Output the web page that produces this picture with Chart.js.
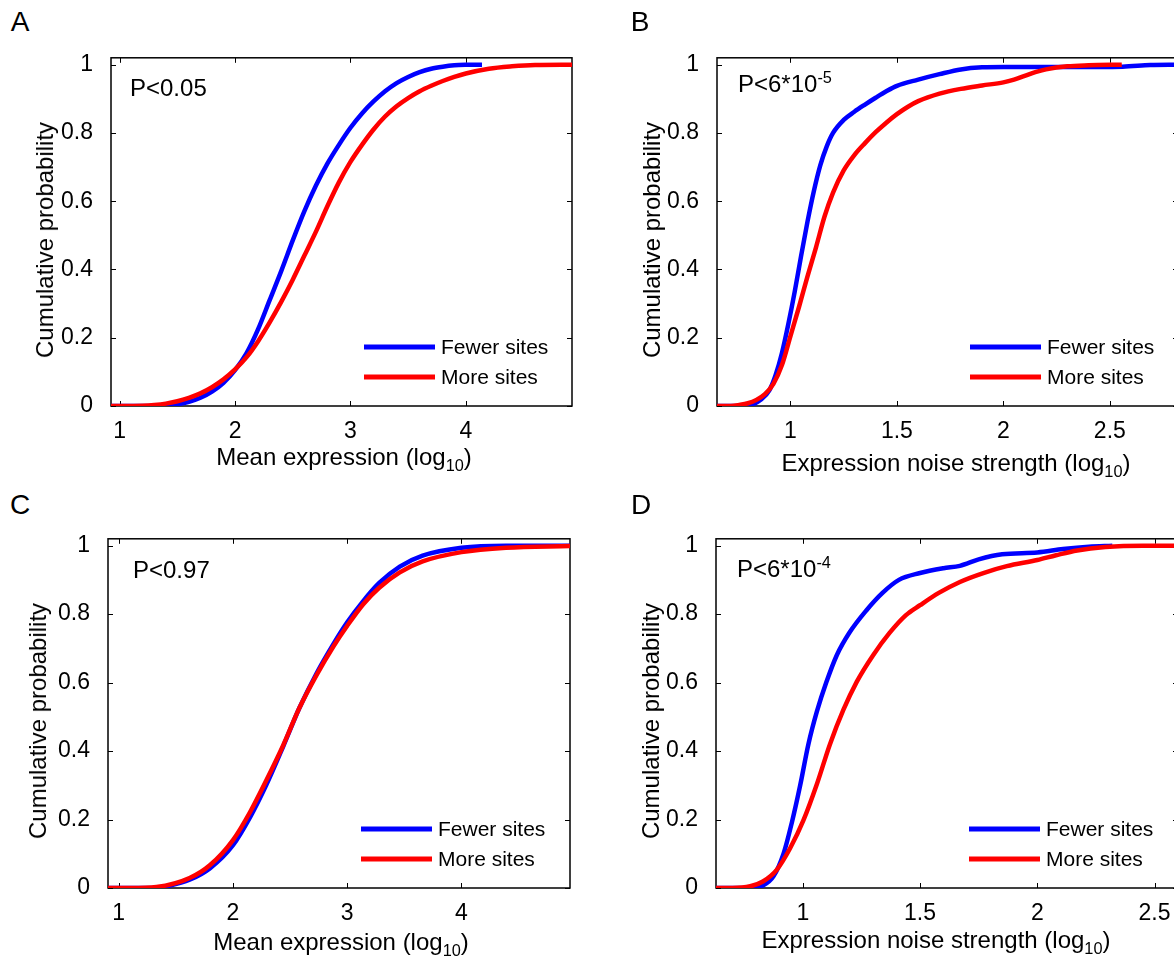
<!DOCTYPE html>
<html>
<head>
<meta charset="utf-8">
<script src="https://cdn.jsdelivr.net/npm/chart.js@4.4.1/dist/chart.umd.min.js"></script>
<style>
	html, body { margin: 0; padding: 0; background: #fff; overflow: hidden; }
	body { width: 1174px; height: 957px; position: relative; font-family: "Liberation Sans", Arial, Helvetica, sans-serif; color: #000; }
	canvas.panel { position: absolute; }
	.txt { position: absolute; white-space: nowrap; line-height: 1; }
	.c { transform: translate( -50%, -50% ); }
	.l { transform: translateY( -50% ); }
	.rot { transform: translate( -50%, -50% ) rotate( -90deg ); }
	.letter { font-size: 28px; }
	.title { font-size: 24px; }
	.pval { font-size: 24px; }
	sub { font-size: 0.68em; vertical-align: -0.35em; line-height: 0; }
	sup { font-size: 0.68em; vertical-align: 0.55em; line-height: 0; }
</style>
</head>
<body>
<script>
/* -------------------------------------------------------------
 * 1. DATA
 * ------------------------------------------------------------- */
const yTicks = [ 0, 0.2, 0.4, 0.6, 0.8, 1 ];
const meanTicks = [ 1, 2, 3, 4 ];
const noiseTicks = [ 1, 1.5, 2, 2.5 ];
const seriesLabels = [ 'Fewer sites', 'More sites' ];

// A: mean expression
const aFewerX = [ 0.925, 1.3, 1.4, 1.5, 1.6, 1.7, 1.8, 1.9, 2.0, 2.1, 2.2, 2.3, 2.4, 2.5, 2.6, 2.7, 2.8, 2.9, 3.0, 3.1, 3.2, 3.3, 3.4, 3.5, 3.6, 3.7, 3.8, 3.9, 4.0, 4.14 ];
const aFewerY = [ 0, 0, 0.001, 0.005, 0.012, 0.024, 0.042, 0.068, 0.105, 0.155, 0.225, 0.31, 0.395, 0.485, 0.57, 0.645, 0.71, 0.765, 0.815, 0.857, 0.892, 0.922, 0.946, 0.964, 0.978, 0.988, 0.994, 0.998, 0.9995, 1.0 ];
const aMoreX = [ 0.925, 1.2, 1.3, 1.4, 1.5, 1.6, 1.7, 1.8, 1.9, 2.0, 2.1, 2.2, 2.3, 2.4, 2.5, 2.6, 2.7, 2.8, 2.9, 3.0, 3.1, 3.2, 3.3, 3.4, 3.5, 3.6, 3.7, 3.8, 3.9, 4.0, 4.2, 4.4, 4.6, 4.92 ];
const aMoreY = [ 0, 0.001, 0.003, 0.007, 0.014, 0.024, 0.037, 0.055, 0.078, 0.107, 0.143, 0.19, 0.245, 0.305, 0.37, 0.44, 0.51, 0.585, 0.655, 0.715, 0.765, 0.81, 0.848, 0.878, 0.902, 0.922, 0.938, 0.952, 0.964, 0.974, 0.988, 0.995, 0.999, 1.0 ];

// B: noise strength
const bFewerX = [ 0.655, 0.78, 0.82, 0.86, 0.9, 0.93, 0.96, 0.99, 1.02, 1.05, 1.08, 1.11, 1.14, 1.17, 1.2, 1.25, 1.3, 1.35, 1.4, 1.45, 1.5, 1.6, 1.7, 1.8, 1.9, 2.0, 2.3, 2.56, 2.69, 2.82 ];
const bFewerY = [ 0, 0, 0.004, 0.018, 0.045, 0.09, 0.155, 0.24, 0.335, 0.44, 0.54, 0.63, 0.705, 0.76, 0.8, 0.838, 0.862, 0.883, 0.903, 0.922, 0.938, 0.956, 0.972, 0.986, 0.992, 0.993, 0.993, 0.994, 0.999, 1.0 ];
const bMoreX = [ 0.655, 0.72, 0.76, 0.8, 0.84, 0.88, 0.92, 0.96, 1.0, 1.04, 1.08, 1.12, 1.16, 1.2, 1.25, 1.3, 1.35, 1.4, 1.45, 1.5, 1.55, 1.6, 1.7, 1.8, 1.9, 2.0, 2.05, 2.1, 2.15, 2.2, 2.3, 2.4, 2.556 ];
const bMoreY = [ 0, 0, 0.003, 0.008, 0.018, 0.035, 0.065, 0.12, 0.205, 0.29, 0.38, 0.465, 0.555, 0.625, 0.69, 0.735, 0.77, 0.802, 0.83, 0.855, 0.876, 0.893, 0.915, 0.929, 0.939, 0.948, 0.956, 0.967, 0.978, 0.986, 0.995, 0.998, 1.0 ];

// C: mean expression
const cFewerX = [ 0.906, 1.2, 1.35, 1.42, 1.62, 1.80, 2.0, 2.15, 2.29, 2.44, 2.58, 2.73, 2.88, 3.0, 3.14, 3.28, 3.46, 3.66, 4.0, 4.39, 4.95 ];
const cFewerY = [ 0, 0, 0.001, 0.005, 0.024, 0.058, 0.125, 0.207, 0.30, 0.414, 0.525, 0.626, 0.713, 0.776, 0.838, 0.891, 0.939, 0.971, 0.994, 1.0, 1.0 ];
const cMoreX = [ 0.906, 1.1, 1.33, 1.62, 1.80, 2.0, 2.15, 2.29, 2.44, 2.58, 2.73, 2.88, 3.0, 3.14, 3.28, 3.46, 3.66, 4.0, 4.39, 4.95 ];
const cMoreY = [ 0, 0, 0.003, 0.029, 0.067, 0.14, 0.222, 0.313, 0.417, 0.525, 0.621, 0.706, 0.766, 0.829, 0.877, 0.922, 0.954, 0.981, 0.994, 0.999 ];

// D: noise strength
const dFewerX = [ 0.63, 0.776, 0.83, 0.875, 0.918, 0.953, 0.989, 1.024, 1.06, 1.10, 1.145, 1.20, 1.27, 1.34, 1.41, 1.5, 1.60, 1.67, 1.75, 1.85, 2.0, 2.11, 2.22, 2.32 ];
const dFewerY = [ 0, 0, 0.007, 0.034, 0.10, 0.19, 0.30, 0.42, 0.515, 0.60, 0.68, 0.747, 0.81, 0.862, 0.90, 0.92, 0.934, 0.941, 0.96, 0.975, 0.98, 0.99, 0.997, 1.0 ];
const dMoreX = [ 0.63, 0.70, 0.776, 0.83, 0.889, 0.946, 1.003, 1.06, 1.116, 1.173, 1.23, 1.30, 1.37, 1.44, 1.5, 1.58, 1.67, 1.77, 1.87, 2.0, 2.08, 2.17, 2.29, 2.45, 2.6 ];
const dMoreY = [ 0, 0, 0.005, 0.019, 0.053, 0.116, 0.198, 0.303, 0.42, 0.52, 0.602, 0.68, 0.745, 0.797, 0.826, 0.862, 0.894, 0.92, 0.94, 0.958, 0.972, 0.986, 0.996, 1.0, 1.0 ];

/* -------------------------------------------------------------
 * 2. PANEL SETUP
 * ------------------------------------------------------------- */
const FONT = '"Liberation Sans", Arial, Helvetica, sans-serif';
const mean = 'Mean expression (log<sub>10</sub>)';
const noise = 'Expression noise strength (log<sub>10</sub>)';

// box = plot area in page pixels
const panels = [
	{ letter: 'A', box: [ 111, 54, 572, 406 ], xr: [ 0.925, 4.92 ], ticks: meanTicks, fewer: [ aFewerX, aFewerY ], more: [ aMoreX, aMoreY ],
		p: 'P&lt;0.05', pPos: [ 130, 88 ], lPos: [ 20, 22 ], xt: mean, xtPos: [ 344, 457 ], ytPos: [ 45, 240 ] },
	{ letter: 'B', box: [ 717, 54, 1178, 406 ], xr: [ 0.655, 2.82 ], ticks: noiseTicks, fewer: [ bFewerX, bFewerY ], more: [ bMoreX, bMoreY ],
		p: 'P&lt;6*10<sup>-5</sup>', pPos: [ 738, 84 ], lPos: [ 640, 22 ], xt: noise, xtPos: [ 956, 463 ], ytPos: [ 652, 240 ] },
	{ letter: 'C', box: [ 108, 535, 570, 888 ], xr: [ 0.906, 4.95 ], ticks: meanTicks, fewer: [ cFewerX, cFewerY ], more: [ cMoreX, cMoreY ],
		p: 'P&lt;0.97', pPos: [ 133, 570 ], lPos: [ 20, 505 ], xt: mean, xtPos: [ 341, 942 ], ytPos: [ 38, 721 ] },
	{ letter: 'D', box: [ 716, 535, 1178, 888 ], xr: [ 0.63, 2.6 ], ticks: noiseTicks, fewer: [ dFewerX, dFewerY ], more: [ dMoreX, dMoreY ],
		p: 'P&lt;6*10<sup>-4</sup>', pPos: [ 737, 569 ], lPos: [ 641, 505 ], xt: noise, xtPos: [ 936, 940 ], ytPos: [ 651, 721 ] }
];

function toPoints( xs, ys ) {
	return xs.map( ( x, i ) => ( { x, y: ys[ i ] } ) );
}

function addText( html, cls, x, y ) {
	const d = document.createElement( 'div' );
	d.className = 'txt ' + cls;
	d.style.left = x + 'px';
	d.style.top = y + 'px';
	d.innerHTML = html;
	document.body.appendChild( d );
}

// MATLAB-like box with inward ticks on all four sides
const boxAxes = {
	id: 'boxAxes',
	beforeDatasetsDraw( chart ) {
		const { ctx, chartArea: a, scales: { x, y } } = chart;
		ctx.save();
		ctx.strokeStyle = '#000';
		ctx.lineWidth = 1.5;
		ctx.strokeRect( a.left, a.top, a.right - a.left, a.bottom - a.top );
		ctx.lineWidth = 1;
		ctx.beginPath();
		x.ticks.forEach( ( t ) => {
			const px = Math.round( x.getPixelForValue( t.value ) ) + 0.5;
			ctx.moveTo( px, a.bottom ); ctx.lineTo( px, a.bottom - 5 );
			ctx.moveTo( px, a.top ); ctx.lineTo( px, a.top + 5 );
		} );
		y.ticks.forEach( ( t ) => {
			const py = Math.round( y.getPixelForValue( t.value ) ) + 0.5;
			ctx.moveTo( a.left, py ); ctx.lineTo( a.left + 5, py );
			ctx.moveTo( a.right, py ); ctx.lineTo( a.right - 5, py );
		} );
		ctx.stroke();
		ctx.restore();
	}
};

// legend inside the plot, lower right
const innerLegend = {
	id: 'innerLegend',
	afterDatasetsDraw( chart ) {
		const { ctx, chartArea: a } = chart;
		ctx.save();
		ctx.font = '21px ' + FONT;
		ctx.textBaseline = 'middle';
		chart.data.datasets.forEach( ( ds, i ) => {
			const yy = a.bottom - 59 + i * 30;
			ctx.strokeStyle = ds.borderColor;
			ctx.lineWidth = 5;
			ctx.beginPath();
			ctx.moveTo( a.left + 253, yy );
			ctx.lineTo( a.left + 324, yy );
			ctx.stroke();
			ctx.fillStyle = '#000';
			ctx.fillText( ds.label, a.left + 330, yy + 1 );
		} );
		ctx.restore();
	}
};

/* -------------------------------------------------------------
 * 3. CHARTS
 * ------------------------------------------------------------- */
panels.forEach( ( p ) => {
	const [ l, t, r, b ] = p.box;
	const canvas = document.createElement( 'canvas' );
	canvas.className = 'panel';
	canvas.style.left = ( l - 70 ) + 'px';
	canvas.style.top = ( t - 20 ) + 'px';
	canvas.style.width = ( r - l + 80 ) + 'px';
	canvas.style.height = ( b - t + 80 ) + 'px';
	canvas.width = r - l + 80;
	canvas.height = b - t + 80;
	document.body.appendChild( canvas );

	new Chart( canvas, {
		type: 'scatter',
		data: {
			datasets: [
				{
					label: seriesLabels[ 0 ],
					data: toPoints( p.fewer[ 0 ], p.fewer[ 1 ] ),
					borderColor: '#0000ff',
					borderWidth: 4.5,
					showLine: true,
					pointRadius: 0,
					cubicInterpolationMode: 'monotone',
					order: 2
				},
				{
					label: seriesLabels[ 1 ],
					data: toPoints( p.more[ 0 ], p.more[ 1 ] ),
					borderColor: '#ff0000',
					borderWidth: 4.5,
					showLine: true,
					pointRadius: 0,
					cubicInterpolationMode: 'monotone',
					order: 1
				}
			]
		},
		options: {
			responsive: false,
			animation: false,
			events: [],
			layout: { padding: { top: 20, left: 0, right: 10, bottom: 20 } },
			plugins: { legend: { display: false }, tooltip: { enabled: false } },
			scales: {
				x: {
					type: 'linear',
					min: p.xr[ 0 ],
					max: p.xr[ 1 ],
					grid: { display: false },
					border: { display: false },
					afterBuildTicks: ( s ) => { s.ticks = p.ticks.map( ( v ) => ( { value: v } ) ); },
					afterFit: ( s ) => { s.height = 40; },
					ticks: { color: '#000', padding: 4, maxRotation: 0, font: { family: FONT, size: 23 }, callback: ( v ) => String( v ) }
				},
				y: {
					type: 'linear',
					min: 0,
					max: 1.02,
					grid: { display: false },
					border: { display: false },
					afterBuildTicks: ( s ) => { s.ticks = yTicks.map( ( v ) => ( { value: v } ) ); },
					afterFit: ( s ) => { s.width = 70; },
					ticks: { color: '#000', padding: 10, font: { family: FONT, size: 23 }, callback: ( v ) => String( v ) }
				}
			}
		},
		plugins: [ boxAxes, innerLegend ]
	} );

	addText( p.letter, 'letter c', p.lPos[ 0 ], p.lPos[ 1 ] );
	addText( p.p, 'pval l', p.pPos[ 0 ], p.pPos[ 1 ] );
	addText( p.xt, 'title c', p.xtPos[ 0 ], p.xtPos[ 1 ] );
	addText( 'Cumulative probability', 'title rot', p.ytPos[ 0 ], p.ytPos[ 1 ] );
} );
</script>
</body>
</html>
